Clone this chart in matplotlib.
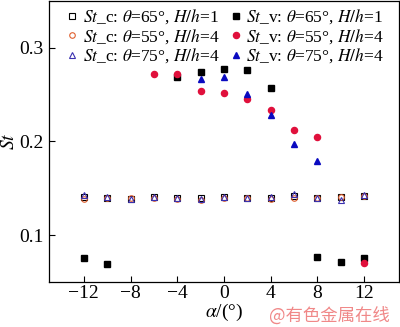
import numpy as np
import matplotlib
matplotlib.use('Agg')
import matplotlib.pyplot as plt

plt.rcParams['font.family'] = 'Liberation Serif'
plt.rcParams['mathtext.fontset'] = 'stix'
plt.rcParams['font.size'] = 13

# angle of attack
alpha = np.arange(-12, 13, 2)

# St_c (open markers), all angles
stc_65_1 = [0.141, 0.140, 0.139, 0.141, 0.140, 0.140, 0.141, 0.140, 0.140, 0.142, 0.140, 0.141, 0.142]
stc_55_4 = [0.139, 0.140, 0.140, 0.140, 0.139, 0.138, 0.140, 0.140, 0.139, 0.140, 0.140, 0.141, 0.142]
stc_75_4 = [0.143, 0.141, 0.139, 0.141, 0.140, 0.139, 0.141, 0.140, 0.141, 0.144, 0.140, 0.138, 0.143]

# St_v (filled markers)
a_v65 = [-12, -10, -4, -2, 0, 2, 4, 8, 10, 12]
stv_65_1 = [0.0759, 0.0695, 0.2688, 0.2745, 0.2777, 0.2763, 0.2564, 0.077, 0.071, 0.0762]
a_v55 = [-6, -4, -2, 0, 2, 4, 6, 8, 12]
stv_55_4 = [0.2716, 0.2723, 0.254, 0.2518, 0.2457, 0.233, 0.2124, 0.205, 0.0706]
a_v75 = [-2, 0, 2, 4, 6, 8]
stv_75_4 = [0.267, 0.2688, 0.2507, 0.228, 0.197, 0.1795]

fig = plt.figure(figsize=(4, 3.27), dpi=100)
ax = fig.add_axes([0.122, 0.137, 0.876, 0.861])

ax.plot(alpha, stc_65_1, ls='none', marker='s', ms=3.8, mfc='none', mec='black', mew=0.8,
        label=r'$St$_c: $\theta$=65°, $H/h$=1')
ax.plot(alpha, stc_55_4, ls='none', marker='o', ms=4, mfc='none', mec='#e06030', mew=0.8,
        label=r'$St$_c: $\theta$=55°, $H/h$=4')
ax.plot(alpha, stc_75_4, ls='none', marker='^', ms=4.2, mfc='none', mec='#3a30b0', mew=0.8,
        label=r'$St$_c: $\theta$=75°, $H/h$=4')
ax.plot(a_v65, stv_65_1, ls='none', marker='s', ms=3.8, color='black',
        label=r'$St$_v: $\theta$=65°, $H/h$=1')
ax.plot(a_v55, stv_55_4, ls='none', marker='o', ms=4.4, color='#e0103c',
        label=r'$St$_v: $\theta$=55°, $H/h$=4')
ax.plot(a_v75, stv_75_4, ls='none', marker='^', ms=4.6, color='#0a0ac0',
        label=r'$St$_v: $\theta$=75°, $H/h$=4')

ax.set_xlim(-15, 15)
ax.set_ylim(0.05, 0.35)
ax.set_xticks([-12, -8, -4, 0, 4, 8, 12])
ax.set_xticklabels(['\u221212', '\u22128', '\u22124', '0', '4', '8', '12'])
ax.set_yticks([0.1, 0.2, 0.3])
ax.tick_params(direction='in', length=4, width=0.8, labelsize=14)
ax.tick_params(axis='x', pad=2)
for s in ax.spines.values():
    s.set_linewidth(0.9)

ax.set_xlabel(r'$\alpha$/(°)', fontsize=14, labelpad=0)
ax.set_ylabel(r'$St$', fontsize=14, labelpad=1)

ax.legend(ncol=2, loc='upper left', bbox_to_anchor=(0.035, 1.0), frameon=False,
          fontsize=12.5, handlelength=0.5, handletextpad=0.35, columnspacing=0.7,
          labelspacing=0.05, borderaxespad=0.2, borderpad=0.2)

fig.text(0.975, 0.006, '@有色金属在线', color='#f08888', fontsize=12.5, ha='right', va='bottom',
         family=['Noto Sans CJK SC', 'DejaVu Sans'])

fig.savefig('out.png', dpi=100)
